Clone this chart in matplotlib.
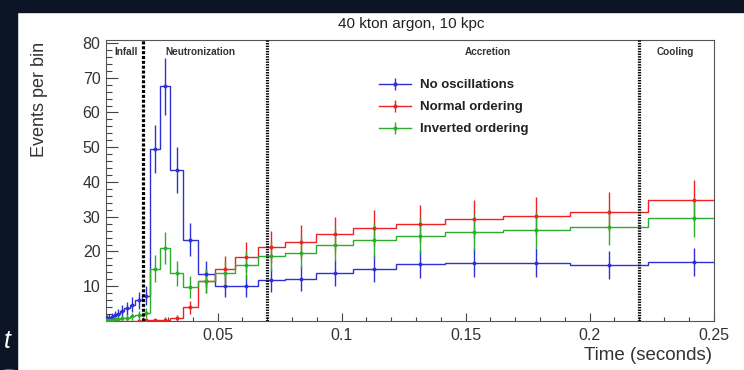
import matplotlib

matplotlib.use("Agg")
import matplotlib.pyplot as plt
import numpy as np
from matplotlib.legend_handler import HandlerTuple
from matplotlib.lines import Line2D
from matplotlib.patches import Circle, Rectangle

plt.rcParams["font.family"] = ["Liberation Sans", "DejaVu Sans"]
plt.rcParams["lines.scale_dashes"] = False

# log-spaced time bins (seconds)
bin_edges = [0.00500, 0.00582, 0.00678, 0.00789, 0.00918, 0.01069, 0.01245,
             0.01449, 0.01687, 0.01964, 0.02287, 0.02662, 0.03100, 0.03608,
             0.04201, 0.04891, 0.05694, 0.06629, 0.07717, 0.08984, 0.10460,
             0.12177, 0.14176, 0.16504, 0.19214, 0.22369, 0.26042]

no_osc = [0.8, 1.0, 1.2, 1.6, 2.0, 2.8, 3.6, 4.7, 5.9, 7.3, 49.5, 67.5, 43.5,
          23.4, 13.6, 10.2, 10.1, 11.7, 12.2, 13.9, 15.1, 16.4, 16.8, 16.8,
          16.1, 17.0]
normal = [0, 0, 0, 0, 0, 0, 0, 0, 0.1, 0.2, 0.2, 0.4, 0.8, 3.9, 11.5, 14.9,
          18.5, 21.2, 22.8, 24.9, 26.7, 28.0, 29.4, 30.2, 31.5, 34.7]
inverted = [0.2, 0.3, 0.4, 0.5, 0.6, 0.8, 1.0, 1.3, 1.6, 2.3, 15.1, 20.9, 13.7,
            9.8, 11.6, 13.7, 16.1, 18.6, 19.7, 21.8, 23.3, 24.6, 25.6, 26.2,
            27.0, 29.5]

series = [
    ("No oscillations", no_osc, "#2f2fd6"),
    ("Normal ordering", normal, "#ee2222"),
    ("Inverted ordering", inverted, "#2eac2e"),
]

phase_edges = [0.02, 0.07, 0.22]
phase_names = ["Infall", "Neutronization", "Accretion", "Cooling"]
phase_label_x = [0.0130, 0.0430, 0.1590, 0.2345]

edges = np.asarray(bin_edges)
centers = 0.5 * (edges[:-1] + edges[1:])

fig = plt.figure(figsize=(7.44, 3.70), dpi=100)
fig.patch.set_facecolor("white")

# slide background around the pasted figure
dark = "#0c1526"
fig.add_artist(Rectangle((0, 0), 17 / 744, 1, transform=fig.transFigure, color=dark, zorder=-5))
fig.add_artist(Rectangle((0, 1 - 12 / 370), 1, 12 / 370, transform=fig.transFigure, color=dark, zorder=-5))
fig.add_artist(Circle((9 / 744, -4 / 370), 0.012, transform=fig.transFigure, color="#1d7fd8", zorder=-4))
fig.text(4 / 744, 1 - 341 / 370, "t", color="white", fontsize=18, style="italic", va="center")

ax = fig.add_axes([106 / 744, 1 - 321 / 370, 607.5 / 744, 281.5 / 370])

handles = []
for label, vals, color in series:
    vals = np.asarray(vals, dtype=float)
    ax.stairs(vals, edges, baseline=None, color=color, lw=1.0, zorder=3)
    keep = vals > 0
    # Poisson errors, as ROOT draws them
    ax.errorbar(centers[keep], vals[keep], yerr=np.sqrt(vals[keep]), fmt="o", ms=1.8,
                color=color, elinewidth=1.0, capsize=0, zorder=4, clip_on=True)
    handles.append((
        Line2D([], [], color=color, lw=1.0),
        Line2D([], [], color=color, marker="|", ms=9, mew=1.0, ls="none"),
        Line2D([], [], color=color, marker="o", ms=2.0, ls="none"),
    ))

ax.axvline(phase_edges[0], color="black", lw=2.3, dashes=(2.2, 1.3), zorder=5)
for x in phase_edges[1:]:
    ax.axvline(x, color="black", lw=2.3, dashes=(1.0, 0.9), zorder=5)

for name, x in zip(phase_names, phase_label_x):
    ax.text(x, 77.5, name, ha="center", va="center", fontsize=7.2,
            fontweight="bold", color="#333333")

ax.set_xlim(0.005, 0.25)
ax.set_ylim(0, 81)
ax.set_xticks([0.05, 0.1, 0.15, 0.2, 0.25])
ax.set_xticklabels(["0.05", "0.1", "0.15", "0.2", "0.25"])
ax.set_xticks(np.arange(0.01, 0.25, 0.01), minor=True)
ax.set_yticks(range(10, 81, 10))
ax.set_yticks(range(2, 81, 2), minor=True)

ax.tick_params(which="both", direction="in", top=False, right=False,
               color="#444444", width=0.8)
ax.tick_params(axis="x", which="major", length=6, pad=5, labelsize=11.5, labelcolor="#333333")
ax.tick_params(axis="x", which="minor", length=3)
ax.tick_params(axis="y", which="major", length=8.5, pad=4, labelsize=11.5, labelcolor="#333333")
ax.tick_params(axis="y", which="minor", length=4.3)
for sp in ax.spines.values():
    sp.set_color("#555555")
    sp.set_linewidth(0.8)

fig.text(411 / 744, 1 - 24 / 370, "40 kton argon, 10 kpc", ha="center", va="center",
         fontsize=11, color="#222222")
fig.text(39 / 744, 1 - 42 / 370, "Events per bin", rotation=90, ha="center", va="top",
         fontsize=13, color="#333333")
fig.text(712 / 744, 1 - 355 / 370, "Time (seconds)", ha="right", va="center",
         fontsize=13.5, color="#333333")

ax.legend(handles, [s[0] for s in series], handler_map={tuple: HandlerTuple(ndivide=1)},
          loc="upper left", bbox_to_anchor=(379 / 744, 1 - 79 / 370),
          bbox_transform=fig.transFigure, frameon=False, borderpad=0, borderaxespad=0,
          handlelength=2.4, handletextpad=0.7, labelspacing=0.75,
          prop={"size": 9.5, "weight": "bold"})
for t in ax.get_legend().get_texts():
    t.set_color("#222222")

fig.savefig("out.png", dpi=100)
